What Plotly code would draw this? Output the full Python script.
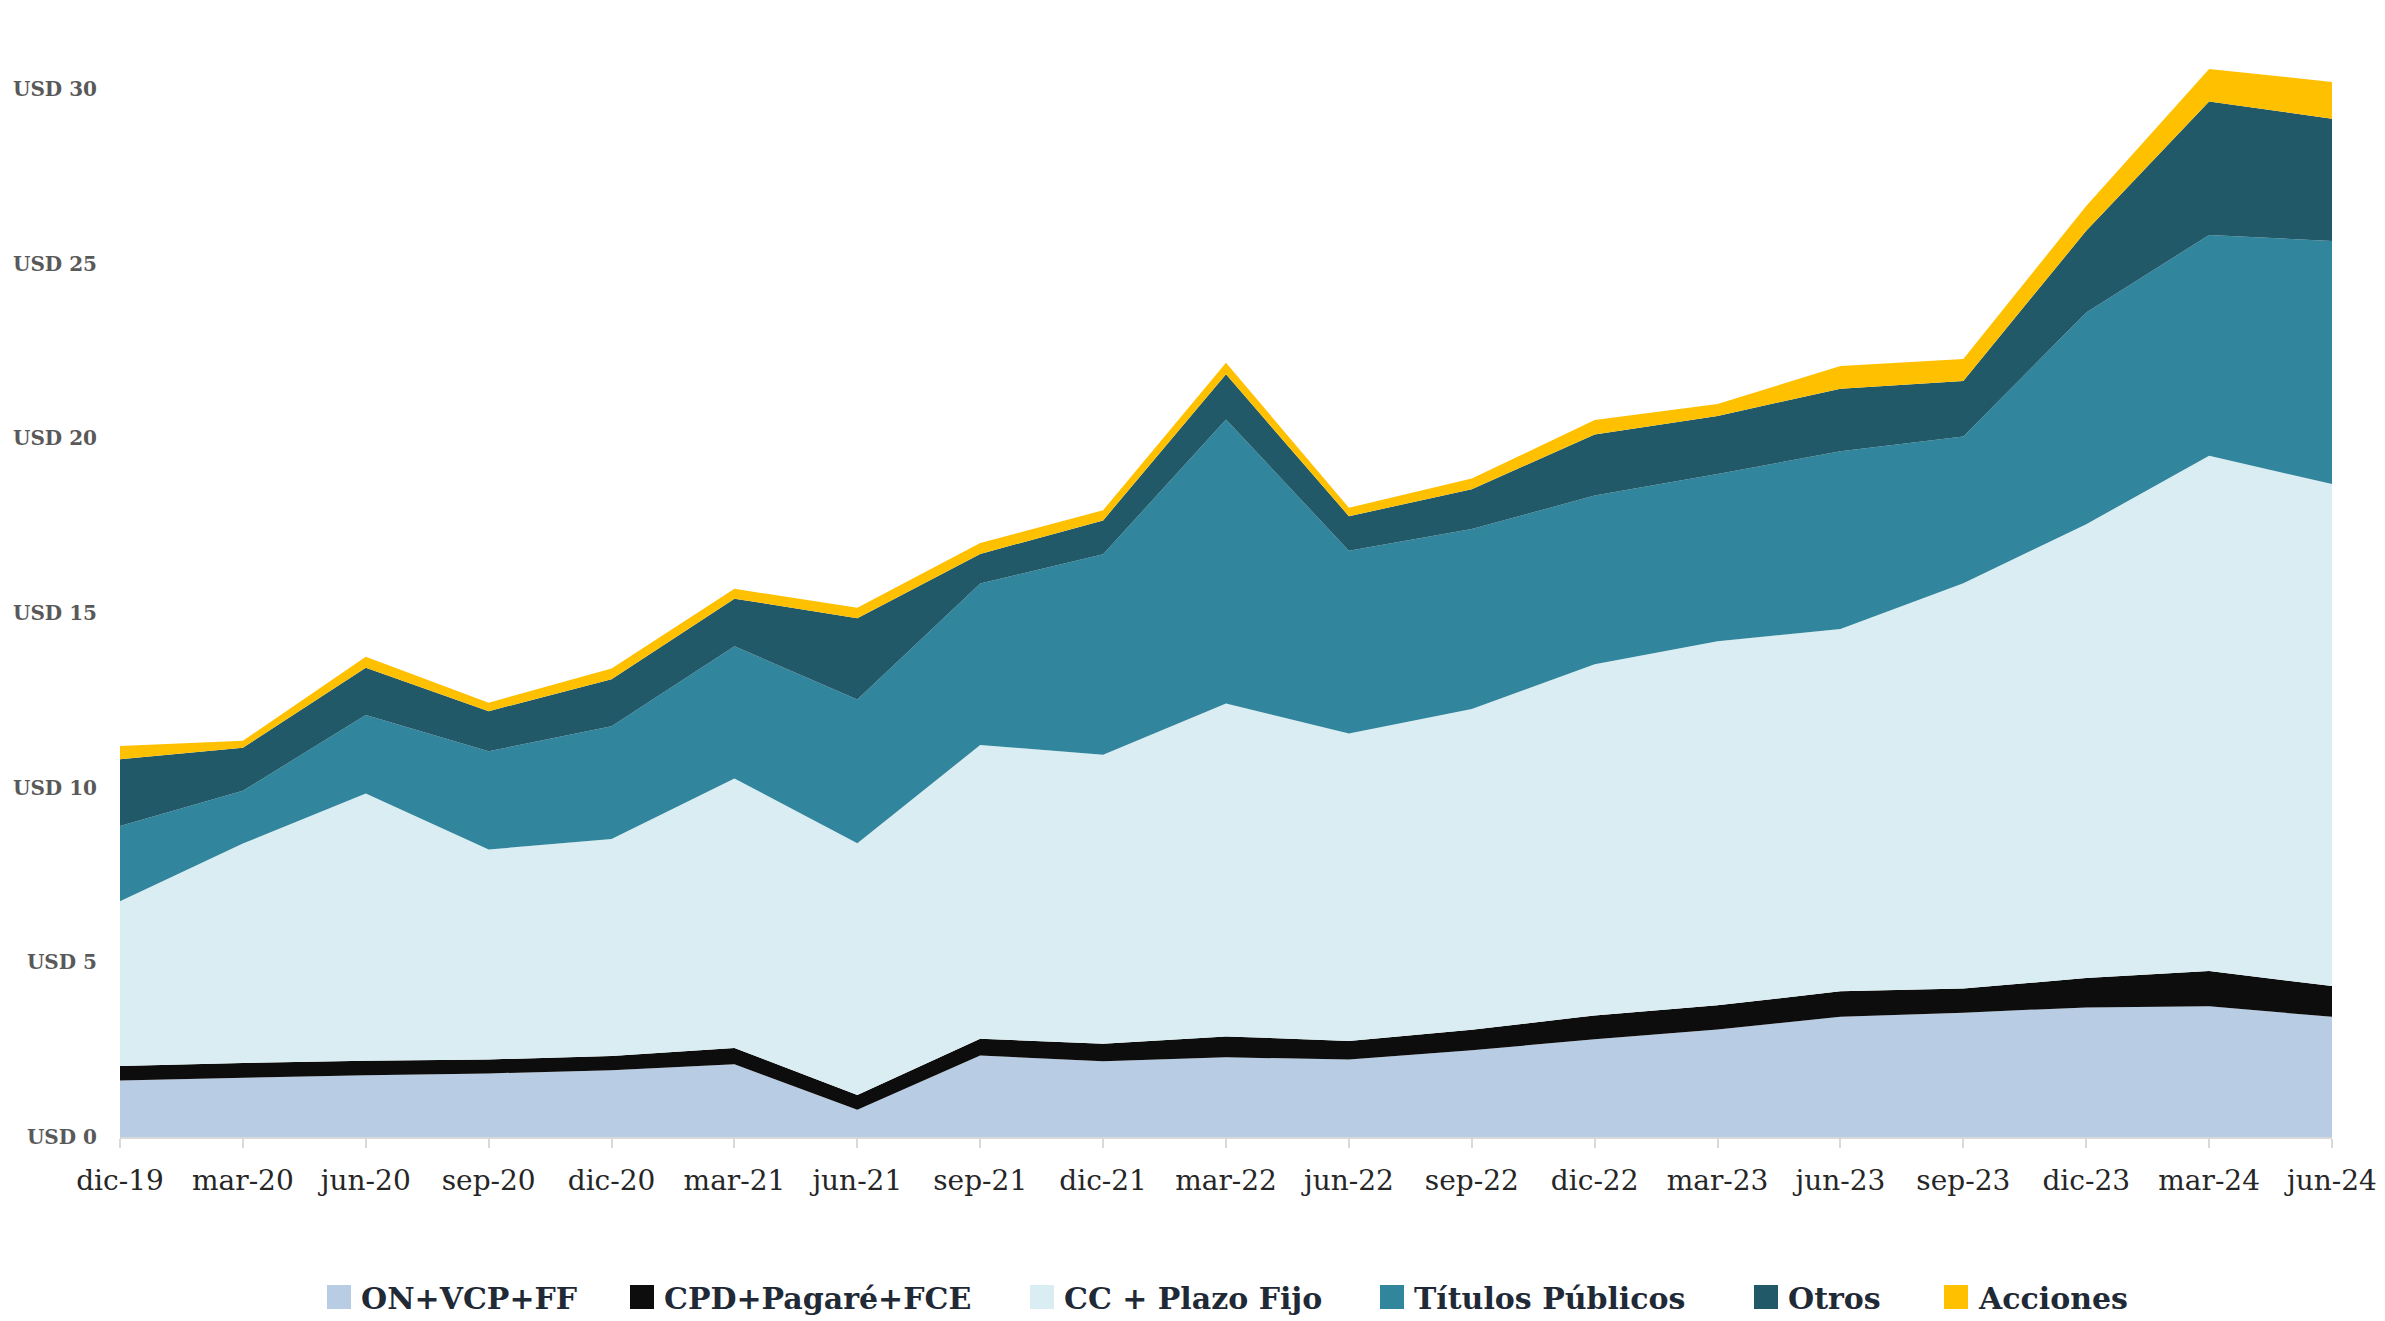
import plotly.graph_objects as go

# Quarter labels
quarters = ["dic-19", "mar-20", "jun-20", "sep-20", "dic-20", "mar-21", "jun-21",
            "sep-21", "dic-21", "mar-22", "jun-22", "sep-22", "dic-22", "mar-23",
            "jun-23", "sep-23", "dic-23", "mar-24", "jun-24"]

# Stock by instrument (USD billions)
on_vcp_ff = [1.62, 1.70, 1.77, 1.82, 1.91, 2.08, 0.78, 2.33, 2.17, 2.28,
             2.22, 2.48, 2.80, 3.08, 3.44, 3.56, 3.71, 3.74, 3.44]
cpd_pagare_fce = [0.41, 0.42, 0.41, 0.40, 0.41, 0.47, 0.42, 0.48, 0.50, 0.60,
                  0.53, 0.59, 0.68, 0.69, 0.73, 0.69, 0.84, 1.01, 0.88]
cc_plazo_fijo = [4.72, 6.28, 7.65, 6.01, 6.21, 7.71, 7.21, 8.41, 8.27, 9.53,
                 8.80, 9.18, 10.05, 10.42, 10.37, 11.60, 12.99, 14.75, 14.37]
titulos_publicos = [2.15, 1.51, 2.25, 2.81, 3.23, 3.79, 4.11, 4.62, 5.74, 8.13,
                    5.23, 5.15, 4.83, 4.79, 5.09, 4.20, 6.06, 6.32, 6.96]
otros = [1.91, 1.23, 1.35, 1.15, 1.34, 1.36, 2.33, 0.85, 0.97, 1.29,
         0.99, 1.14, 1.75, 1.66, 1.79, 1.59, 2.34, 3.82, 3.50]
acciones = [0.38, 0.20, 0.32, 0.24, 0.31, 0.28, 0.30, 0.31, 0.29, 0.33,
            0.24, 0.31, 0.41, 0.34, 0.65, 0.63, 0.71, 0.93, 1.05]

series_names = ["ON+VCP+FF", "CPD+Pagaré+FCE", "CC + Plazo Fijo",
                "Títulos Públicos", "Otros", "Acciones"]
series_values = [on_vcp_ff, cpd_pagare_fce, cc_plazo_fijo,
                 titulos_publicos, otros, acciones]
series_colors = ["#b8cce4", "#0d0d0d", "#daedf3", "#31859c", "#215968", "#ffc000"]

y_ticks = [0, 5, 10, 15, 20, 25, 30]
y_ticktext = [f"USD {v}" for v in y_ticks]

x_pos = list(range(len(quarters)))

# Figure geometry (pixels)
W, H = 2385, 1321
ML, MR, MT, MB = 120, 53, 54, 184
PW, PH = W - ML - MR, H - MT - MB

fig = go.Figure()

for name, vals, color in zip(series_names, series_values, series_colors):
    fig.add_trace(go.Scatter(
        x=x_pos, y=vals, name=name, mode="lines",
        stackgroup="one", line=dict(width=0, color=color),
        fillcolor=color, showlegend=False, hoverinfo="x+y+name",
    ))

# Legend row below the plot: coloured square keys followed by bold labels
legend_key_left = [327, 630, 1030, 1380, 1754, 1944]   # px from left edge
key_size = 24
legend_center_y = 1297                                   # px from top edge


def px_to_paper_x(px):
    return (px - ML) / PW


def px_to_paper_y(py):
    return (H - MB - py) / PH


for name, color, kx in zip(series_names, series_colors, legend_key_left):
    fig.add_shape(
        type="rect", xref="paper", yref="paper",
        x0=px_to_paper_x(kx), x1=px_to_paper_x(kx + key_size),
        y0=px_to_paper_y(legend_center_y + key_size / 2),
        y1=px_to_paper_y(legend_center_y - key_size / 2),
        fillcolor=color, line=dict(width=0),
    )
    fig.add_annotation(
        text=f"<b>{name}</b>", xref="paper", yref="paper",
        x=px_to_paper_x(kx + key_size + 8), y=px_to_paper_y(legend_center_y + 1),
        xanchor="left", yanchor="middle", showarrow=False,
        font=dict(family="DejaVu Serif", size=30, color="#1f2a36"),
    )

fig.update_layout(
    width=W, height=H,
    margin=dict(l=ML, r=MR, t=MT, b=MB, autoexpand=False),
    paper_bgcolor="white", plot_bgcolor="white",
    showlegend=False,
    font=dict(family="DejaVu Serif"),
)

fig.update_xaxes(
    range=[0, 18], tickmode="array", tickvals=x_pos, ticktext=quarters,
    showgrid=False, zeroline=False,
    showline=True, linecolor="#d9d9d9", linewidth=2,
    ticks="outside", ticklen=9, tickwidth=2, tickcolor="#d9d9d9",
    tickfont=dict(family="DejaVu Serif", size=28, color="#262626"),
    ticklabelstandoff=8,
)

fig.update_yaxes(
    range=[0, 31], tickmode="array", tickvals=y_ticks, ticktext=y_ticktext,
    showgrid=False, zeroline=False, showline=False, ticks="",
    tickfont=dict(family="DejaVu Serif", size=20, color="#595959", weight="bold"),
    ticklabelstandoff=22,
)

fig.write_html("out.html")
